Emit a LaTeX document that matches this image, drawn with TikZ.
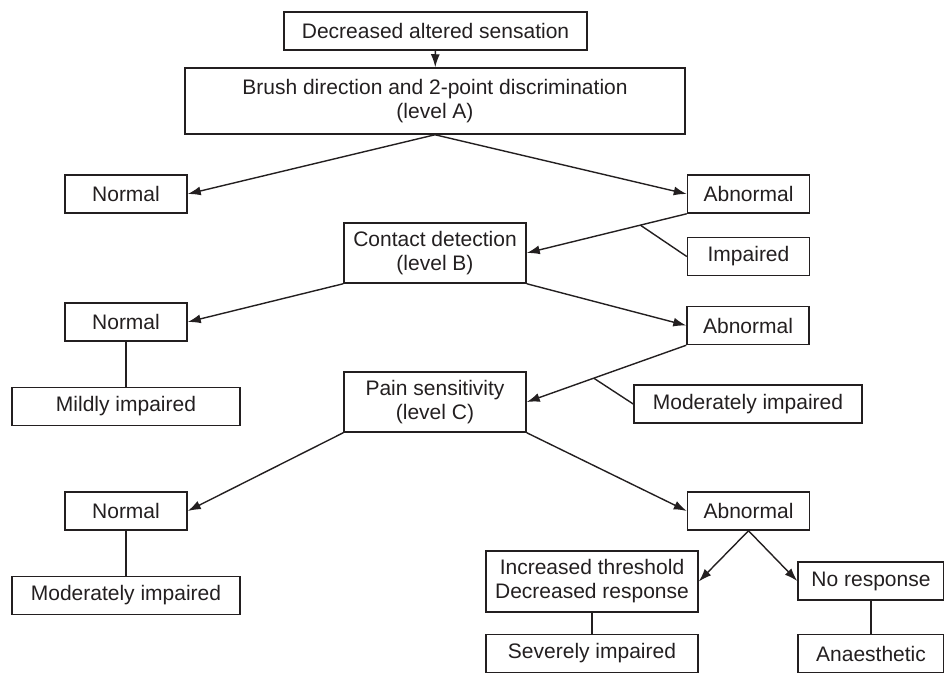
\documentclass[tikz,border=0pt]{standalone}
\usepackage{fontspec}
\setmainfont{Liberation Sans}
\usetikzlibrary{positioning,arrows.meta}

\definecolor{ink}{RGB}{35,31,32}

\begin{document}
\begin{tikzpicture}[x=1pt, y=-1pt, color=ink,
  font=\fontsize{21}{24}\selectfont,
  box/.style={draw, rectangle, line width=1.5pt, inner sep=0pt, align=center, minimum height=38pt},
  small/.style={box, minimum width=122pt},
  wide/.style={box, minimum width=228pt},
  level/.style={box, minimum width=182pt, minimum height=60pt},
  arr/.style={-{Latex[length=13pt,width=9pt]}, line width=1.4pt},
  link/.style={line width=1.4pt}]
  \useasboundingbox (0,0) rectangle (944,672);

  \node[box, minimum width=303pt] (start) at (435.5,31) {Decreased altered sensation};
  \node[box, minimum width=500pt, minimum height=66pt] (levelA) at (435,101) {Brush direction and 2-point discrimination\\(level A)};

  \node[small] (normalA) at (126,194) {Normal};
  \node[small] (abnormalA) at (748.5,194) {Abnormal};
  \node[level] (levelB) at (435,253) {Contact detection\\(level B)};
  \node[small, below=23pt of abnormalA] (impaired) {Impaired};

  \node[small] (normalB) at (126,322) {Normal};
  \node[small] (abnormalB) at (748,325.5) {Abnormal};
  \node[wide, below=45pt of normalB] (mild) {Mildly impaired};
  \node[level] (levelC) at (435,402) {Pain sensitivity\\(level C)};
  \node[wide] (moderateR) at (748,404) {Moderately impaired};

  \node[small] (normalC) at (126,511) {Normal};
  \node[small] (abnormalC) at (748.5,511) {Abnormal};
  \node[wide, below=45pt of normalC] (moderateL) {Moderately impaired};
  \node[box, minimum width=212pt, minimum height=61pt] (threshold) at (592,581.5) {Increased threshold\\Decreased response};
  \node[box, minimum width=146pt] (noresp) at (871,581) {No response};
  \node[box, minimum width=212pt, below=21pt of threshold] (severe) {Severely impaired};
  \node[box, minimum width=146pt, below=33pt of noresp] (anaes) {Anaesthetic};

  \draw[arr] (start) -- (levelA);
  \draw[arr] (levelA.south) -- (normalA.east);
  \draw[arr] (levelA.south) -- (abnormalA.west);
  \draw[arr] (abnormalA.south west) -- coordinate[pos=0.29] (splitB) (levelB.east);
  \draw[link] (splitB) -- (impaired.west);

  \draw[arr] (levelB.south west) -- (normalB.east);
  \draw[arr] (levelB.south east) -- (abnormalB.west);
  \draw[link] (normalB) -- (mild);
  \draw[arr] (abnormalB.south west) -- coordinate[pos=0.58] (splitC) (levelC.east);
  \draw[link] (splitC) -- (moderateR.west);

  \draw[arr] (levelC.south west) -- (normalC.east);
  \draw[arr] (levelC.south east) -- (abnormalC.west);
  \draw[link] (normalC) -- (moderateL);
  \draw[arr] (abnormalC.south) -- (threshold.east);
  \draw[arr] (abnormalC.south) -- (noresp.west);
  \draw[link] (threshold) -- (severe);
  \draw[link] (noresp) -- (anaes);
\end{tikzpicture}
\end{document}
